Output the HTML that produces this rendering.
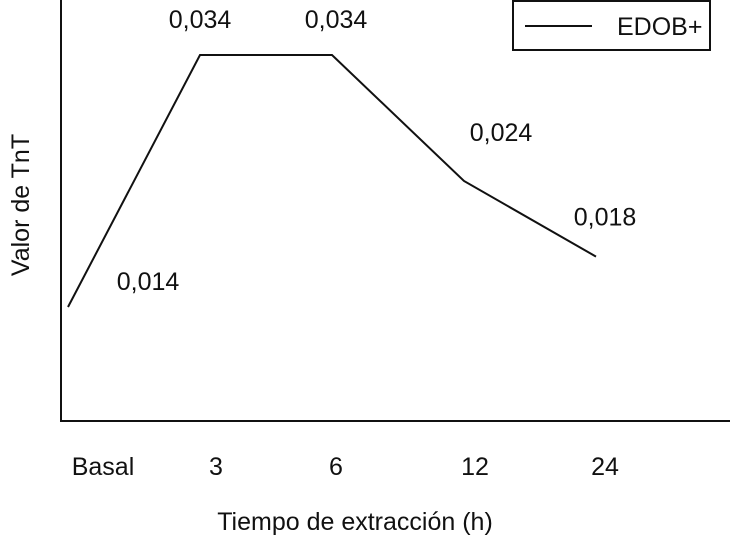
<!DOCTYPE html>
<html><head><meta charset="utf-8"><style>
body{margin:0;background:#fff}
svg text{font-family:"Liberation Sans Narrow","Liberation Sans",sans-serif;fill:#111}
</style></head><body>
<svg id="chart" width="730" height="539" viewBox="0 0 730 539">
<line x1="61" y1="0" x2="61" y2="421" stroke="#111" stroke-width="2"/>
<line x1="60" y1="421" x2="730" y2="421" stroke="#111" stroke-width="2"/>
<text x="355" y="530" font-size="25" text-anchor="middle">Tiempo de extracción (h)</text>
<text transform="translate(29,205) rotate(-90)" font-size="25" text-anchor="middle">Valor de TnT</text>
<g>
<rect x="513" y="1" width="197" height="49" fill="#fff" stroke="#111" stroke-width="2"/>
<line x1="525" y1="26" x2="592" y2="26" stroke="#111" stroke-width="2"/>
<text x="617" y="35" font-size="25">EDOB+</text>
</g>
<g id="marks"></g>
</svg>
<script>
const categories=["Basal","3","6","12","24"];
const values=[0.014,0.034,0.034,0.024,0.018];
const valueLabels=["0,014","0,034","0,034","0,024","0,018"];
const labelDx=[80,0,4,37,9];
const labelDy=[-17,-27,-27,-40,-31];
const catLabelX=[103,216,336,475,605];
function xs(i){return 68+i*132;}
function ys(v){return 307-(v-0.014)*12600;}
const NS="http://www.w3.org/2000/svg";
const g=document.getElementById("marks");
const pts=values.map((v,i)=>xs(i)+","+ys(v)).join(" ");
const pl=document.createElementNS(NS,"polyline");
pl.setAttribute("points",pts);pl.setAttribute("fill","none");pl.setAttribute("stroke","#111");pl.setAttribute("stroke-width","2");


g.appendChild(pl);
values.forEach((v,i)=>{
 const t=document.createElementNS(NS,"text");
 t.setAttribute("x",xs(i)+labelDx[i]);t.setAttribute("y",ys(v)+labelDy[i]);
 t.setAttribute("font-size","25");t.setAttribute("text-anchor","middle");
 t.textContent=valueLabels[i];
 
 
 g.appendChild(t);
 const c=document.createElementNS(NS,"text");
 c.setAttribute("x",catLabelX[i]);c.setAttribute("y",475);
 c.setAttribute("font-size","25");c.setAttribute("text-anchor","middle");
 c.textContent=categories[i];
 
 
 g.appendChild(c);
});
</script>
</body></html>
